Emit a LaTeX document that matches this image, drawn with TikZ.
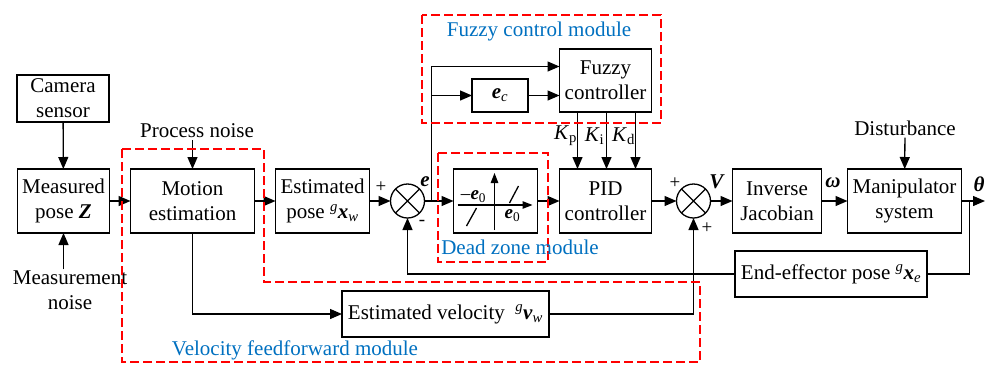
\documentclass[tikz,border=0pt]{standalone}
\usepackage{fontspec}
\setmainfont{Liberation Serif}
\usepackage{xcolor}
\usepackage{tikz}
\usetikzlibrary{arrows.meta, positioning, calc}
\definecolor{modblue}{RGB}{0,112,192}
\newcommand{\bivec}[1]{\textbf{\textit{#1}}}

\begin{document}
\begin{tikzpicture}[
    x=1pt, y=-1pt,
    font=\fontsize{21}{25}\selectfont,
    node distance=22pt,
    block/.style={rectangle, draw, line width=1.3pt, minimum width=92pt, minimum height=64pt, align=center, inner sep=2pt, outer sep=0pt},
    sumnode/.style={circle, draw, line width=1.3pt, minimum size=34pt, inner sep=0pt, outer sep=0pt,
        path picture={\draw[line width=1.2pt] (path picture bounding box.north west) -- (path picture bounding box.south east)
            (path picture bounding box.north east) -- (path picture bounding box.south west);}},
    arrow/.style={->, >={Triangle[length=12pt, width=10pt]}, line width=1.3pt},
    axis/.style={->, >={Triangle[length=10pt, width=7.5pt]}, line width=1.2pt},
    line/.style={line width=1.3pt},
    module/.style={draw=red, dash pattern=on 9pt off 4pt, line width=1.4pt},
    modlabel/.style={text=modblue, inner sep=1pt},
    sign/.style={font=\fontsize{19}{19}\selectfont, inner sep=0pt}
]

\useasboundingbox (0,0) rectangle (986,365);

% Main chain
\node[block, minimum height=47pt] (camera) at (63,98.5) {Camera\\sensor};
\node[block] (measured) at (63.5,201) {Measured\\pose \bivec{Z}};
\node[block, minimum width=124pt, right=21pt of measured] (motion) {Motion\\estimation};
\node[block, minimum width=94pt, right=21pt of motion] (estpose) {Estimated\\pose \textsuperscript{\textit{g}}\bivec{x}\textsubscript{\textit{w}}};
\node[sumnode, right=21pt of estpose] (sum1) {};
\node[block, minimum width=84pt, right=29pt of sum1] (deadzone) {};
\node[block, right=22pt of deadzone] (pid) {PID\\controller};
\node[sumnode, right=25pt of pid] (sum2) {};
\node[block, minimum width=89pt, right=22pt of sum2] (invjac) {Inverse\\Jacobian};
\node[block, minimum width=114pt, right=26pt of invjac] (manip) {Manipulator\\system};
\coordinate (out) at (985,201);

% Fuzzy part
\node[block, minimum height=63pt, above=57pt of pid] (fuzzy) {Fuzzy\\controller};
\node[block, minimum width=56pt, minimum height=33pt] (ec) at (500,95.5) {\bivec{e}\textsubscript{\textit{c}}};

% Feedback and feedforward blocks
\node[block, minimum width=192pt, minimum height=46pt] (endeff) at (831,274) {End-effector pose \textsuperscript{\textit{g}}\bivec{x}\textsubscript{\textit{e}}};
\node[block, minimum width=207pt, minimum height=46pt] (estvel) at (445.5,314) {Estimated velocity~~\textsuperscript{\textit{g}}\bivec{v}\textsubscript{\textit{w}}};

% Inputs
\node[inner sep=2pt] (pnoise) at (197,131) {Process noise};
\node[align=center, inner sep=1pt] (mnoise) at (70,290) {Measurement\\noise};
\node[inner sep=2pt] (disturb) at (905,128) {Disturbance};

% Signals
\node[sign] (plus1) at (381,187) {+};
\node[sign] (minus1) at (422,223) {-};
\node[sign] (plus2) at (675,183) {+};
\node[sign] (plus3) at (707,228) {+};
\node (elbl) at (425,182) {\bivec{e}};
\node (vlbl) at (717,182) {\bivec{V}};
\node (omlbl) at (833,183) {\bivec{ω}};
\node (thlbl) at (979,184) {\bivec{θ}};

% Dead zone curve
\begin{scope}[shift={(deadzone.center)}]
    \draw[axis] (-38,4) -- (37,4);
    \draw[axis] (-1,29) -- (-1,-28);
    \draw[line] (-29,25) -- (-19,7);
    \draw[line] (14,2) -- (23,-15);
    \node[font=\fontsize{19}{19}\selectfont, inner sep=0pt] (nege0) at (-22,-4) {–\bivec{e}\textsubscript{0}};
    \node[font=\fontsize{19}{19}\selectfont, inner sep=0pt] (pose0) at (17,15) {\bivec{e}\textsubscript{0}};
\end{scope}

% Connections
\draw[arrow] (camera) -- (measured);
\draw[arrow] (mnoise.north -| measured.south) -- (measured.south);
\draw[arrow] (measured) -- (motion);
\draw[arrow] (pnoise.south -| motion.north) -- (motion.north);
\draw[arrow] (motion) -- (estpose);
\draw[arrow] (estpose) -- (sum1);
\draw[arrow] (sum1) -- (deadzone);
\draw[arrow] (deadzone) -- (pid);
\draw[arrow] (pid) -- (sum2);
\draw[arrow] (sum2) -- (invjac);
\draw[arrow] (invjac) -- (manip);
\draw[arrow] (disturb) -- (manip);
\draw[arrow] (manip.east) -- (out);

\coordinate (ebranch) at ($(sum1.east)!0.25!(deadzone.west)$);
\coordinate (fin1) at ($(fuzzy.west)+(0,-14)$);
\coordinate (fin2) at (fuzzy.west |- ec.east);
\draw[arrow] (ebranch) |- (fin1);
\draw[arrow] (ebranch |- ec.west) -- (ec.west);
\draw[arrow] (ec.east) -- (fin2);

\foreach \dx/\sub in {-28/p, 1/i, 30/d} {
    \draw[arrow] ($(fuzzy.south)+(\dx,0)$) -- ($(pid.north)+(\dx,0)$);
    \node (k\sub) at ($(fuzzy.south)+(\dx-12,24)$) {\textit{K}\textsubscript{\sub}};
}

\coordinate (fbk) at ($(manip.east)!0.35!(out)$);
\draw[line] (fbk) |- (endeff.east);
\draw[arrow] (endeff.west) -| (sum1.south);
\draw[arrow] (motion.south) |- (estvel.west);
\draw[arrow] (estvel.east) -| (sum2.south);

% Modules
\draw[module] (422,15) rectangle (661,123);
\draw[module] (438,153) rectangle (548,262);
\draw[module] (122,149) -- (264,149) -- (264,282) -- (700,282) -- (700,362) -- (122,362) -- cycle;
\node[modlabel] (fuzzylbl) at (539,31) {Fuzzy control module};
\node[modlabel] (deadlbl) at (520,247) {Dead zone module};
\node[modlabel] (vellbl) at (295,350) {Velocity feedforward module};

\end{tikzpicture}
\end{document}
